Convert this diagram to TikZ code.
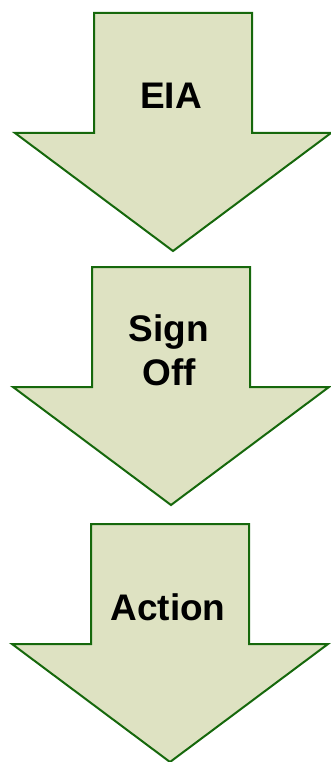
\documentclass[tikz,border=0pt]{standalone}
\usepackage{fontspec}
\setmainfont{Liberation Sans}
\usepackage{xcolor}
\usepackage{tikz}

\definecolor{arrowfill}{RGB}{222,226,194}
\definecolor{arrowline}{RGB}{22,104,12}

\tikzset{
  bigarrow/.style={draw=arrowline,fill=arrowfill,line width=2pt,line join=miter},
  steplabel/.style={font=\bfseries\fontsize{37}{44}\selectfont,align=center,text=black,inner sep=0pt}
}

\begin{document}
\begin{tikzpicture}[x=1pt,y=-1pt]
    \useasboundingbox (0,0) rectangle (331,762);

    \foreach \cx/\top/\name/\txt in {173/13/eia/EIA,171/267/signoff/{Sign\\Off},170/524/action/Action} {
      \draw[bigarrow] (\cx-79,\top) -- (\cx+79,\top) -- (\cx+79,\top+120)
        -- (\cx+158,\top+120) -- (\cx,\top+238) -- (\cx-158,\top+120)
        -- (\cx-79,\top+120) -- cycle;
      \node[steplabel] (\name) at (\cx-2,\top+83) {\txt};
    }
  \end{tikzpicture}
\end{document}
